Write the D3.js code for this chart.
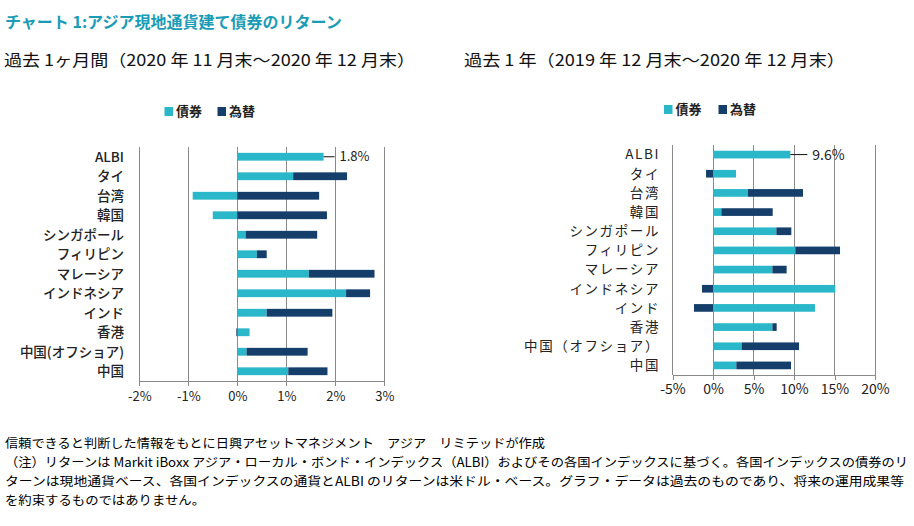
<!DOCTYPE html>
<html><head><meta charset="utf-8">
<script src="https://cdn.jsdelivr.net/npm/d3@7"></script>
<style>
body{margin:0;background:#fff;}
svg{display:block;}
text{font-family:"Noto Sans CJK JP","Noto Sans",sans-serif;}
</style></head>
<body>
<svg id="c" width="914" height="526"></svg>
<script>
const categories = ["ALBI","タイ","台湾","韓国","シンガポール","フィリピン","マレーシア","インドネシア","インド","香港","中国（オフショア）","中国"];
const bondMonth = [1.76,1.14,-0.91,-0.50,0.17,0.40,1.46,2.22,0.60,0.25,0.19,1.04];
const fxMonth   = [0,1.10,1.67,1.83,1.46,0.20,1.34,0.49,1.34,-0.02,1.245,0.80];
const bondYear  = [9.55,2.84,4.32,1.03,7.82,10.16,7.33,15.10,12.59,7.33,3.54,2.88];
const fxYear    = [0,-0.86,6.79,6.34,1.85,5.52,1.76,-1.36,-2.35,0.53,7.08,6.75];
const ticksMonth = [-2,-1,0,1,2,3];
const ticksYear = [-5,0,5,10,15,20];
const albiLabels = ["1.8%","9.6%"];
const seriesNames = ["債券","為替"];
const title = "チャート 1:アジア現地通貨建て債券のリターン";
const subtitles = ["過去 1ヶ月間（2020 年 11 月末～2020 年 12 月末）","過去 1 年（2019 年 12 月末～2020 年 12 月末）"];
const notes = [
 "信頼できると判断した情報をもとに日興アセットマネジメント　アジア　リミテッドが作成",
 "（注）リターンは Markit iBoxx アジア・ローカル・ボンド・インデックス（ALBI）およびその各国インデックスに基づく。各国インデックスの債券のリ",
 "ターンは現地通貨ベース、各国インデックスの通貨とALBI のリターンは米ドル・ベース。グラフ・データは過去のものであり、将来の運用成果等",
 "を約束するものではありません。"
];

const CYAN = "#2bb7ca", NAVY = "#153f6a", GRID = "#8a8a8a";
const svg = d3.select("#c");

svg.append("text").attr("x",5).attr("y",28).attr("font-size",16).attr("font-weight",700)
  .attr("fill","#1a9cb6").text(title);

const subX = [4,464], subW=[411,381];
subtitles.forEach((s,i)=>{
  svg.append("text").attr("x",subX[i]).attr("y",66).attr("font-size",16).attr("font-weight",400)
    .attr("fill","#111").attr("textLength",subW[i]).attr("lengthAdjust","spacingAndGlyphs").text(s);
});

function drawChart(cfg){
  const g = svg.append("g");
  const x = d3.scaleLinear().domain(cfg.domain).range(cfg.xr);
  const y = d3.scaleBand().domain(categories).range(cfg.yr).paddingInner(0.6).paddingOuter(0.3);
  g.selectAll(".grid").data(cfg.ticks).join("line")
    .attr("x1",d=>x(d)).attr("x2",d=>x(d)).attr("y1",cfg.yr[0]).attr("y2",cfg.yr[1])
    .attr("stroke",GRID).attr("stroke-width",1).attr("shape-rendering","crispEdges");
  const ax = g.append("g").attr("transform",`translate(0,${cfg.yr[1]})`)
    .call(d3.axisBottom(x).tickValues(cfg.ticks).tickSize(5).tickFormat(d=>d+"%"));
  ax.select(".domain").attr("stroke",GRID).attr("shape-rendering","crispEdges");
  ax.selectAll(".tick line").attr("stroke",GRID).attr("shape-rendering","crispEdges");
  ax.selectAll(".tick text").attr("font-family",cfg.tickFont).attr("font-size",cfg.tickSize)
    .attr("fill","#222").attr("dy",cfg.tickDy);
  const rows = categories.map((c,i)=>{
    const b = cfg.bond[i], f = cfg.fx[i];
    let f0 = 0;
    if (f !== 0 && Math.sign(f) === Math.sign(b)) f0 = b;
    return {c, b, f0, f1:f0+f};
  });
  g.selectAll(".bond").data(rows).join("rect")
    .attr("x",d=>x(Math.min(0,d.b))).attr("width",d=>Math.abs(x(d.b)-x(0)))
    .attr("y",d=>y(d.c)).attr("height",y.bandwidth()).attr("fill",CYAN);
  g.selectAll(".fx").data(rows.filter(d=>d.f1!==d.f0)).join("rect")
    .attr("x",d=>x(Math.min(d.f0,d.f1))).attr("width",d=>Math.abs(x(d.f1)-x(d.f0)))
    .attr("y",d=>y(d.c)).attr("height",y.bandwidth()).attr("fill",NAVY);
  g.selectAll(".cat").data(categories).join("text")
    .attr("x",cfg.labelX).attr("y",d=>y(d)+y.bandwidth()/2).attr("dy","0.36em")
    .attr("text-anchor","end").attr("font-size",cfg.labelSize).attr("font-weight",cfg.labelWeight)
    .attr("letter-spacing",cfg.labelSpacing).attr("fill","#222")
    .text(d=>cfg.labelMap ? cfg.labelMap(d) : d);
  const ay = y(categories[0])+y.bandwidth()/2;
  const ax0 = x(cfg.bond[0]+cfg.fx[0]);
  g.append("line").attr("x1",ax0).attr("x2",ax0+cfg.leader).attr("y1",ay).attr("y2",ay)
    .attr("stroke","#111").attr("stroke-width",1);
  g.append("text").attr("x",ax0+cfg.leader+5).attr("y",ay).attr("dy","0.36em")
    .attr("font-family",cfg.tickFont).attr("font-size",cfg.tickSize).attr("fill","#222").text(cfg.albi);
  const lg = g.append("g");
  [CYAN,NAVY].forEach((col,i)=>{
    lg.append("rect").attr("x",cfg.legX[i]).attr("y",cfg.legY-4.5).attr("width",8.5).attr("height",9).attr("fill",col);
    lg.append("text").attr("x",cfg.legX[i]+11.5).attr("y",cfg.legY).attr("dy","0.36em")
      .attr("font-size",13).attr("font-weight",700).attr("fill","#222").text(seriesNames[i]);
  });
}

drawChart({domain:[-2,3], xr:[139.3,384.3], yr:[147,381], ticks:ticksMonth, bond:bondMonth, fx:fxMonth,
  labelX:124, labelSize:13.5, labelWeight:500, labelSpacing:0, tickFont:"Open Sans", tickSize:13, tickDy:"0.9em",
  leader:11, albi:albiLabels[0], legX:[164.5,217.5], legY:111.5,
  labelMap:d=>d.replace("（","(").replace("）",")")});
drawChart({domain:[-5,20], xr:[672.5,875], yr:[145,375], ticks:ticksYear, bond:bondYear, fx:fxYear,
  labelX:660, labelSize:13.5, labelWeight:400, labelSpacing:1.6, tickFont:"Lato", tickSize:14, tickDy:"0.75em",
  leader:17, albi:albiLabels[1], legX:[664,718.5], legY:109.5});

const noteY = [448,467,486,505], noteW=[540,903,899,200];
notes.forEach((t,i)=>{
  svg.append("text").attr("x",5).attr("y",noteY[i]).attr("font-size",12.5).attr("fill","#000")
    .attr("textLength",noteW[i]).attr("lengthAdjust","spacingAndGlyphs").text(t);
});
</script>
</body></html>
